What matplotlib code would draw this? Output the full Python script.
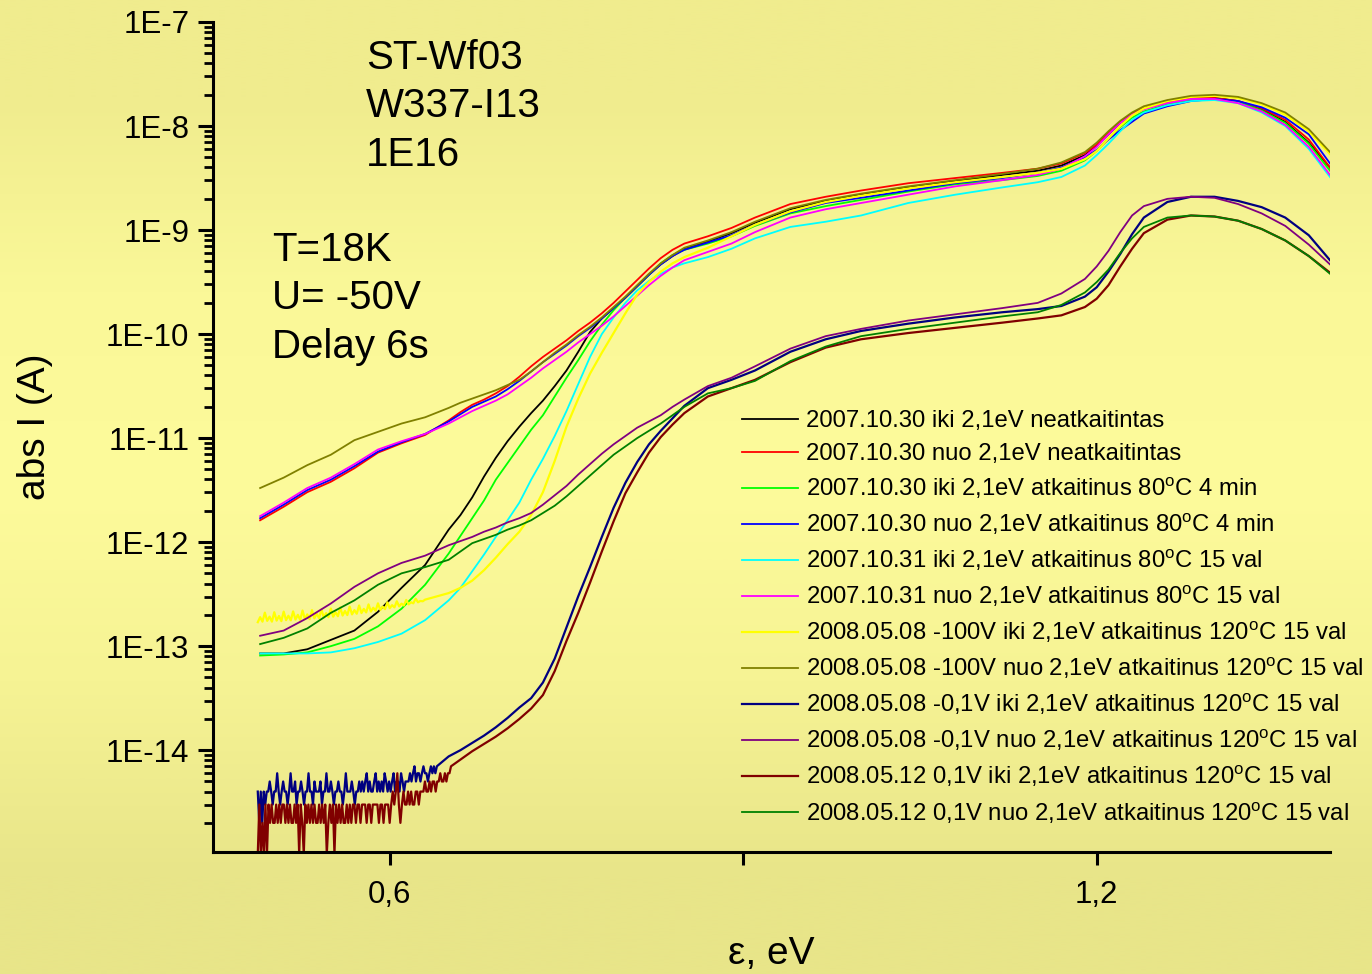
import numpy as np
import matplotlib
matplotlib.use("Agg")
import matplotlib.pyplot as plt
from matplotlib.ticker import FixedLocator, NullFormatter, LogLocator, FuncFormatter

plt.rcParams['font.family'] = ['Liberation Sans', 'DejaVu Sans']
plt.rcParams['mathtext.fontset'] = 'custom'
plt.rcParams['mathtext.rm'] = 'Liberation Sans'
plt.rcParams['mathtext.it'] = 'Liberation Sans:italic'

nan = np.nan
# photon energy knots (eV)
E = [0.49, 0.51, 0.53, 0.55, 0.57, 0.59, 0.61, 0.63,
     0.65, 0.66, 0.67, 0.68, 0.69, 0.70, 0.71, 0.72, 0.73, 0.74, 0.75, 0.76, 0.77,
     0.78, 0.79, 0.80, 0.81, 0.82, 0.83, 0.84, 0.85,
     0.87, 0.89, 0.91, 0.94, 0.97, 1.00,
     1.04, 1.08, 1.12, 1.15, 1.17, 1.19,
     1.20, 1.21, 1.22, 1.23, 1.24, 1.26, 1.28, 1.30, 1.32, 1.34, 1.36, 1.38, 1.398]

# log10 of |I| (A)
log_black = [-13.07, -13.07, -13.03, -12.94, -12.85, -12.67, -12.44, -12.22,
             -11.88, -11.74, -11.57, -11.37, -11.19, -11.03, -10.89, -10.76, -10.64, -10.50, -10.35, -10.17, -9.98,
             -9.85, -9.75, -9.65, -9.54, -9.43, -9.33, -9.25, -9.18,
             -9.11, -9.03, -8.93, -8.80, -8.72, -8.66,
             -8.59, -8.53, -8.47, -8.43, -8.38, -8.28,
             -8.19, -8.08, -7.97, -7.89, -7.83, -7.77, -7.73, -7.73, -7.76, -7.84, -7.96, -8.16, -8.40]
log_red = [-11.79, -11.66, -11.52, -11.42, -11.29, -11.14, -11.05, -10.97,
           -10.83, -10.75, -10.68, -10.63, -10.57, -10.50, -10.41, -10.31, -10.22, -10.14, -10.06, -9.97, -9.89,
           -9.80, -9.70, -9.59, -9.48, -9.37, -9.27, -9.19, -9.13,
           -9.06, -8.98, -8.88, -8.75, -8.68, -8.62,
           -8.55, -8.50, -8.45, -8.41, -8.36, -8.26,
           -8.18, -8.07, -7.96, -7.88, -7.83, -7.77, -7.73, -7.73, -7.76, -7.83, -7.94, -8.13, -8.40]
log_lime = [-13.09, -13.08, -13.06, -13.00, -12.93, -12.81, -12.64, -12.41,
            -12.11, -11.94, -11.77, -11.60, -11.40, -11.24, -11.08, -10.92, -10.78, -10.60, -10.42, -10.25, -10.07,
            -9.91, -9.77, -9.65, -9.54, -9.43, -9.32, -9.24, -9.19,
            -9.13, -9.06, -8.96, -8.84, -8.77, -8.71,
            -8.63, -8.56, -8.52, -8.48, -8.43, -8.33,
            -8.24, -8.12, -8.01, -7.92, -7.86, -7.79, -7.75, -7.74, -7.77, -7.85, -7.97, -8.17, -8.43]
log_blue = [-11.77, -11.64, -11.50, -11.40, -11.27, -11.13, -11.04, -10.96,
            -10.84, -10.77, -10.70, -10.65, -10.60, -10.53, -10.45, -10.36, -10.27, -10.19, -10.11, -10.02, -9.94,
            -9.85, -9.75, -9.65, -9.54, -9.43, -9.33, -9.25, -9.19,
            -9.12, -9.05, -8.95, -8.83, -8.74, -8.69,
            -8.62, -8.55, -8.50, -8.45, -8.40, -8.30,
            -8.23, -8.13, -8.04, -7.96, -7.88, -7.81, -7.76, -7.74, -7.76, -7.82, -7.92, -8.08, -8.36]
log_cyan = [-13.07, -13.07, -13.07, -13.06, -13.02, -12.96, -12.88, -12.75,
            -12.56, -12.44, -12.28, -12.12, -11.95, -11.79, -11.62, -11.40, -11.20, -10.98, -10.74, -10.48, -10.22,
            -10.00, -9.84, -9.70, -9.58, -9.49, -9.42, -9.36, -9.32,
            -9.26, -9.18, -9.08, -8.97, -8.92, -8.86,
            -8.74, -8.66, -8.59, -8.54, -8.49, -8.38,
            -8.28, -8.17, -8.05, -7.94, -7.87, -7.80, -7.76, -7.75, -7.78, -7.87, -8.00, -8.22, -8.49]
log_magenta = [-11.75, -11.62, -11.48, -11.38, -11.25, -11.11, -11.03, -10.96,
               -10.86, -10.80, -10.74, -10.69, -10.64, -10.58, -10.50, -10.42, -10.33, -10.25, -10.17, -10.08, -10.00,
               -9.92, -9.83, -9.73, -9.63, -9.53, -9.44, -9.36, -9.29,
               -9.21, -9.13, -9.02, -8.88, -8.80, -8.74,
               -8.66, -8.58, -8.52, -8.47, -8.41, -8.29,
               -8.20, -8.08, -7.97, -7.89, -7.84, -7.78, -7.74, -7.74, -7.78, -7.86, -7.99, -8.20, -8.47]
log_yellow = [nan, nan, nan, nan, nan, nan, nan, nan,
              -12.49, -12.44, -12.37, -12.27, -12.15, -12.02, -11.90, -11.74, -11.52, -11.22, -10.89, -10.62, -10.38,
              -10.18, -9.99, -9.80, -9.62, -9.50, -9.40, -9.32, -9.26,
              -9.17, -9.06, -8.95, -8.82, -8.73, -8.67,
              -8.60, -8.54, -8.49, -8.45, -8.41, -8.32,
              -8.24, -8.12, -8.00, -7.90, -7.83, -7.76, -7.72, -7.71, -7.73, -7.79, -7.89, -8.05, -8.27]
log_olive = [-11.48, -11.38, -11.26, -11.16, -11.02, -10.94, -10.86, -10.80,
             -10.71, -10.66, -10.62, -10.58, -10.54, -10.49, -10.44, -10.36, -10.27, -10.18, -10.10, -10.01, -9.93,
             -9.84, -9.74, -9.64, -9.53, -9.42, -9.32, -9.24, -9.17,
             -9.10, -9.02, -8.92, -8.79, -8.71, -8.65,
             -8.58, -8.52, -8.46, -8.41, -8.35, -8.25,
             -8.16, -8.05, -7.95, -7.87, -7.81, -7.75, -7.71, -7.70, -7.72, -7.78, -7.87, -8.03, -8.25]
log_navy = [nan, nan, nan, nan, nan, nan, nan, nan,
            -14.06, -14.00, -13.93, -13.86, -13.78, -13.69, -13.59, -13.50, -13.35, -13.12, -12.82, -12.52, -12.24,
            -11.95, -11.67, -11.43, -11.23, -11.06, -10.93, -10.81, -10.69,
            -10.52, -10.44, -10.35, -10.17, -10.05, -9.97,
            -9.90, -9.84, -9.79, -9.76, -9.73, -9.64,
            -9.55, -9.40, -9.23, -9.04, -8.88, -8.73, -8.68, -8.68, -8.72, -8.78, -8.88, -9.05, -9.29]
log_purple = [-12.90, -12.85, -12.73, -12.59, -12.43, -12.30, -12.20, -12.13,
              -12.03, -11.99, -11.95, -11.90, -11.86, -11.81, -11.77, -11.72, -11.64, -11.55, -11.46, -11.35, -11.25,
              -11.15, -11.06, -10.98, -10.90, -10.84, -10.78, -10.70, -10.63,
              -10.50, -10.42, -10.31, -10.14, -10.02, -9.95,
              -9.87, -9.81, -9.75, -9.70, -9.61, -9.47,
              -9.35, -9.20, -9.02, -8.86, -8.77, -8.70, -8.68, -8.69, -8.75, -8.84, -8.96, -9.14, -9.33]
log_darkred = [nan, nan, nan, nan, nan, nan, nan, nan,
               nan, -14.09, -14.01, -13.94, -13.87, -13.79, -13.70, -13.60, -13.47, -13.24, -12.95, -12.68, -12.39,
               -12.09, -11.80, -11.53, -11.33, -11.14, -10.99, -10.87, -10.76,
               -10.60, -10.52, -10.44, -10.27, -10.13, -10.05,
               -9.99, -9.94, -9.89, -9.85, -9.82, -9.74,
               -9.66, -9.53, -9.35, -9.18, -9.03, -8.90, -8.86, -8.87, -8.91, -8.99, -9.10, -9.25, -9.41]
log_dkgreen = [-12.98, -12.92, -12.83, -12.68, -12.56, -12.41, -12.30, -12.24,
               -12.17, -12.09, -12.01, -11.97, -11.93, -11.88, -11.84, -11.79, -11.72, -11.65, -11.56, -11.46, -11.36,
               -11.26, -11.16, -11.08, -11.00, -10.93, -10.86, -10.78, -10.70,
               -10.57, -10.52, -10.45, -10.26, -10.12, -10.02,
               -9.95, -9.89, -9.83, -9.79, -9.72, -9.60,
               -9.50, -9.38, -9.22, -9.08, -8.97, -8.88, -8.86, -8.87, -8.91, -8.99, -9.10, -9.25, -9.42]

# noisy low-signal starts (read as quantised levels)
yellow_start = (0.488, 0.630)   # units 1E-13
yellow_noise = [1.70, 1.90, 1.72, 2.10, 1.75, 1.92, 1.72, 2.12, 1.76, 1.95, 1.74, 2.15, 1.78, 1.96, 1.77, 2.16,
                1.80, 2.00, 1.79, 2.20, 1.82, 2.02, 1.82, 2.22, 1.85, 2.05, 1.86, 2.26, 1.88, 2.08, 1.90, 2.30,
                1.92, 2.12, 1.94, 2.35, 1.97, 2.18, 1.99, 2.40, 2.02, 2.22, 2.05, 2.46, 2.08, 2.28, 2.11, 2.52,
                2.15, 2.34, 2.19, 2.58, 2.23, 2.40, 2.27, 2.64, 2.32, 2.48, 2.36, 2.70, 2.41, 2.56, 2.46, 2.78,
                2.52, 2.64, 2.58, 2.86, 2.64, 2.72, 2.70, 2.80]
navy_start = (0.488, 0.640)     # units 1E-15
navy_noise = [4, 2, 4, 2, 4, 3, 4,
              4, 5, 4, 3, 4, 4, 6, 4, 3, 4, 5, 4, 4, 3, 4, 6, 4, 4, 5, 3, 4, 4, 5, 4, 3, 4, 4, 6, 4, 4,
              3, 5, 4, 4, 4, 5, 3, 4, 4, 6, 4, 4, 5, 4, 3, 4, 4, 5, 4, 4, 3, 4, 6, 4, 4, 4, 5, 4, 3, 4, 4, 5,
              4, 5, 4, 5, 6, 4, 5, 4, 4, 5, 6, 4, 5, 4, 5, 4, 6, 5, 4, 5, 4, 5, 6, 4, 5, 5, 4, 6, 5, 4, 5, 5,
              5, 6, 5, 6, 7, 5, 6, 6, 5, 6, 7, 6, 6, 5, 6, 7, 6, 7, 6, 7]
darkred_start = (0.488, 0.652)  # units 1E-15
darkred_noise = [1, 3, 1, 2, 1, 3, 1,
                 3, 2, 3, 2, 2, 3, 2, 3, 2, 3, 3, 2, 3, 2, 3, 2, 2, 3, 2, 3, 1, 3, 2, 1, 3, 2, 3, 2, 3, 2,
                 3, 2, 2, 3, 2, 3, 2, 3, 1, 2, 3, 2, 3, 1, 3, 2, 3, 2, 3, 2, 2, 3, 2, 3, 2, 3, 3, 2,
                 3, 3, 2, 3, 3, 3, 2, 3, 3, 2, 3, 3, 3, 3, 2, 3, 3, 2, 3, 3, 3, 2,
                 3, 4, 3, 4, 6, 3, 2, 3, 4, 3, 3, 4, 3, 4, 3, 3, 4, 4, 3, 4,
                 4, 4, 5, 4, 4, 5, 4, 5, 5, 4, 5, 5, 6, 5, 5, 6, 5, 6, 6, 7]

labels = [
    "2007.10.30 iki 2,1eV neatkaitintas",
    "2007.10.30 nuo 2,1eV neatkaitintas",
    "2007.10.30 iki 2,1eV atkaitinus 80$^{\\mathrm{o}}$C 4 min",
    "2007.10.30 nuo 2,1eV atkaitinus 80$^{\\mathrm{o}}$C 4 min",
    "2007.10.31 iki 2,1eV atkaitinus 80$^{\\mathrm{o}}$C 15 val",
    "2007.10.31 nuo 2,1eV atkaitinus 80$^{\\mathrm{o}}$C 15 val",
    "2008.05.08 -100V iki 2,1eV atkaitinus 120$^{\\mathrm{o}}$C 15 val",
    "2008.05.08 -100V nuo 2,1eV atkaitinus 120$^{\\mathrm{o}}$C 15 val",
    "2008.05.08 -0,1V iki 2,1eV atkaitinus 120$^{\\mathrm{o}}$C 15 val",
    "2008.05.08 -0,1V nuo 2,1eV atkaitinus 120$^{\\mathrm{o}}$C 15 val",
    "2008.05.12 0,1V iki 2,1eV atkaitinus 120$^{\\mathrm{o}}$C 15 val",
    "2008.05.12 0,1V nuo 2,1eV atkaitinus 120$^{\\mathrm{o}}$C 15 val",
]
colors = ['#000000', '#FF0000', '#00FF00', '#0000FF', '#00FFFF', '#FF00FF',
          '#FFFF00', '#808000', '#000080', '#800080', '#800000', '#008000']
series = [log_black, log_red, log_lime, log_blue, log_cyan, log_magenta,
          log_yellow, log_olive, log_navy, log_purple, log_darkred, log_dkgreen]
noise = {6: (yellow_start, yellow_noise, 1e-13),
         8: (navy_start, navy_noise, 1e-15),
         10: (darkred_start, darkred_noise, 1e-15)}

W, H = 1372, 974
fig = plt.figure(figsize=(W / 100, H / 100), dpi=100)

# background gradient
bg = fig.add_axes([0, 0, 1, 1], zorder=-10)
bg.axis('off')
grad_colors = np.array([[240, 236, 142], [250, 248, 152], [253, 251, 155],
                        [246, 243, 148], [232, 229, 137]]) / 255.0
bg.imshow(grad_colors.reshape(-1, 1, 3), aspect='auto', extent=[0, 1, 0, 1],
          interpolation='bilinear')

L, B, R, T = 213, 852, 1330, 22
ax = fig.add_axes([L / W, 1 - B / H, (R - L) / W, (B - T) / H])
ax.set_facecolor('none')

Earr = np.array(E)
handles = []
for i, (lg, c) in enumerate(zip(series, colors)):
    y = 10.0 ** np.array(lg, dtype=float)
    x = Earr.copy()
    lw = 1.3
    if i in noise:
        (x0, x1), vals, unit = noise[i]
        nx = np.linspace(x0, x1, len(vals))
        keep = (Earr > x1 + 0.001) & np.isfinite(y)
        x = np.concatenate([nx, Earr[keep]])
        y = np.concatenate([np.array(vals, dtype=float) * unit, y[keep]])
        lw = 1.6
    h, = ax.plot(x, y, color=c, lw=lw, label=labels[i])
    handles.append(h)

ax.set_yscale('log')
ax.set_xlim(0.45, 1.398)
ax.set_ylim(1.05e-15, 1e-7)

for s in ['top', 'right']:
    ax.spines[s].set_visible(False)
for s in ['left', 'bottom']:
    ax.spines[s].set_linewidth(2.2)

ax.xaxis.set_major_locator(FixedLocator([0.6, 0.9, 1.2]))
ax.set_xticklabels(['0,6', '', '1,2'])
ax.yaxis.set_major_locator(LogLocator(base=10, numticks=20))
ax.yaxis.set_minor_locator(LogLocator(base=10, subs=np.arange(2, 10), numticks=20))
ax.yaxis.set_minor_formatter(NullFormatter())
ax.yaxis.set_major_formatter(FuncFormatter(lambda v, p: "1E%d" % int(round(np.log10(v)))))
ax.tick_params(axis='y', which='major', length=11, width=2.2, labelsize=22.5, pad=6, direction='out')
ax.tick_params(axis='y', which='minor', length=6.5, width=2.0, direction='out')
ax.tick_params(axis='x', which='major', length=9, width=2.2, labelsize=22.5, pad=11, direction='out')

fig.text(771 / W, 1 - 954 / H, 'ε, eV', fontsize=28, ha='center', va='center')
fig.text(35 / W, 1 - 427 / H, 'abs I (A)', fontsize=28, ha='center', va='center', rotation=90)

for txt, yy in [('ST-Wf03', 58), ('W337-I13', 106), ('1E16', 155)]:
    fig.text(366 / W, 1 - yy / H, txt, fontsize=29, va='center', ha='left')
for txt, yy in [('T=18K', 250), ('U= -50V', 298), ('Delay 6s', 347)]:
    fig.text(272 / W, 1 - yy / H, txt, fontsize=29, va='center', ha='left')

leg = ax.legend(handles=handles, loc='upper left', bbox_to_anchor=(742 / W, 1 - 410 / H),
                bbox_transform=fig.transFigure, frameon=False, fontsize=17.2,
                handlelength=2.33, handletextpad=0.33, labelspacing=0.455, borderpad=0,
                borderaxespad=0)

fig.savefig('out.png', dpi=100)
